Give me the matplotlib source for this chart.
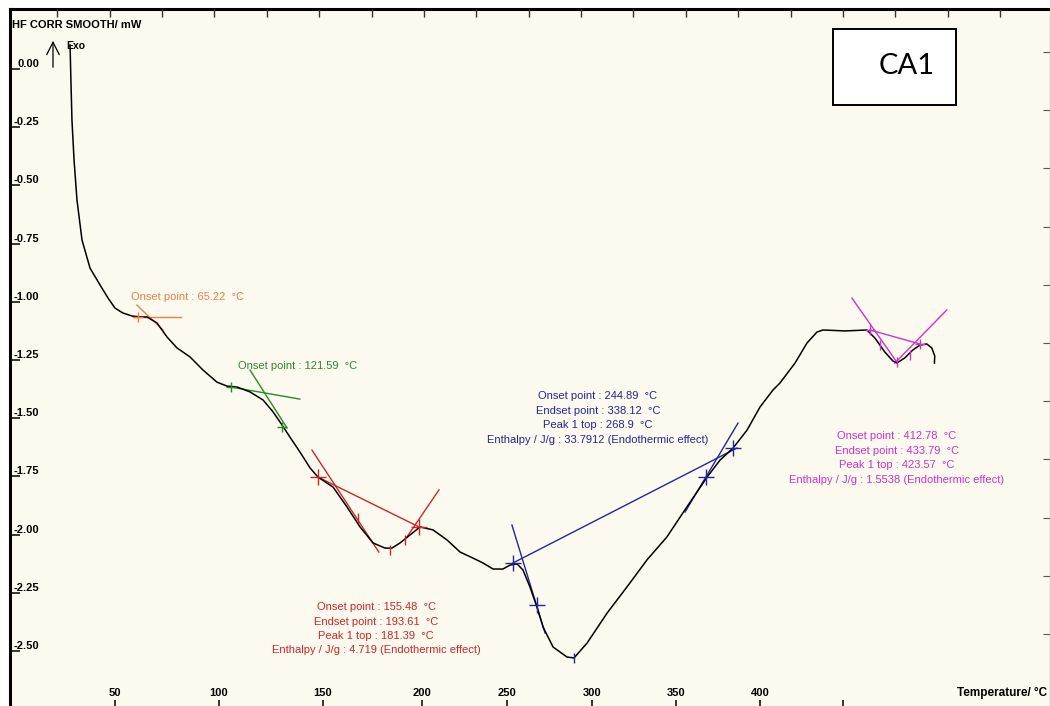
import numpy as np
import matplotlib
matplotlib.use("Agg")
import matplotlib.pyplot as plt
from matplotlib.patches import Rectangle

plt.rcParams['font.family'] = ['Liberation Sans', 'DejaVu Sans']

# DSC trace: sample temperature (°C) and corrected heat flow (mW)
temperature = [28.6, 29.0, 29.5, 30.5, 31.9, 34.3, 38.1, 42.9, 46.7, 50.0,
               53.8, 58.2, 62.0, 65.4, 70.2, 75.0, 79.8, 86.1, 92.3, 99.0,
               103.8, 108.7, 114.9, 121.2, 126.0, 130.3, 134.1, 138.9, 143.8, 147.6,
               155.1, 162.1, 168.7, 175.3, 181.3, 184.8, 188.9, 193.9, 199.0, 206.5,
               214.7, 222.4, 230.0, 235.9, 241.8, 247.6, 251.8, 255.9, 259.4, 263.5,
               267.6, 271.2, 277.1, 285.3, 289.4, 297.1, 309.0, 320.8, 332.7, 344.6,
               356.5, 368.5, 376.2, 384.0, 392.3, 400.0, 407.8, 412.0, 421.1, 428.3,
               434.3, 437.9, 451.2, 464.5, 469.3, 475.3, 480.1, 482.5, 487.3, 492.2,
               496.4, 500.6, 503.6, 505.4, 505.2]
heat_flow = [0.103, -0.047, -0.219, -0.391, -0.563, -0.735, -0.855, -0.928, -0.984, -1.027,
             -1.048, -1.061, -1.065, -1.065, -1.091, -1.151, -1.198, -1.237, -1.293, -1.345,
             -1.362, -1.366, -1.387, -1.422, -1.473, -1.529, -1.581, -1.645, -1.714, -1.753,
             -1.796, -1.881, -1.967, -2.036, -2.058, -2.058, -2.036, -2.002, -1.967, -1.980,
             -2.023, -2.075, -2.101, -2.122, -2.148, -2.148, -2.131, -2.126, -2.152, -2.225,
             -2.311, -2.397, -2.483, -2.526, -2.530, -2.466, -2.337, -2.225, -2.109, -2.010,
             -1.881, -1.753, -1.680, -1.628, -1.551, -1.452, -1.379, -1.349, -1.263, -1.177,
             -1.130, -1.121, -1.125, -1.121, -1.156, -1.216, -1.254, -1.263, -1.241, -1.207,
             -1.186, -1.181, -1.198, -1.233, -1.263]

# axis calibration of the temperature scale (°C -> screen units)
scale_temps = [0, 50, 100, 150, 200, 250, 300, 350, 400, 450, 575]
scale_units = [0, 105, 209, 313, 412, 497, 582, 666, 750, 833, 1040]

x_ticks = [50, 100, 150, 200, 250, 300, 350, 400, 450]
x_labels = ['50', '100', '150', '200', '250', '300', '350', '400', '']
y_ticks = [0.0, -0.25, -0.5, -0.75, -1.0, -1.25, -1.5, -1.75, -2.0, -2.25, -2.5]

# thermal events: tangents, baselines, crosses and result text
orange_lines = [([58.6, 81.9], [-1.065, -1.065]), ([60.5, 73.1], [-1.014, -1.121])]
orange_cross = ([61.0], [-1.065])
orange_text = "Onset point : 65.22  °C"

green_lines = [([105.7, 138.9], [-1.366, -1.418]), ([114.9, 132.7], [-1.293, -1.542])]
green_cross = ([105.7, 130.3], [-1.366, -1.538])
green_text = "Onset point : 121.59  °C"

red_lines = [([147.6, 198.5], [-1.753, -1.967]), ([144.7, 178.2], [-1.637, -2.075]),
             ([192.4, 210.0], [-2.010, -1.808])]
red_cross = ([147.6, 198.5], [-1.753, -1.967])
red_ticks = ([167.7, 183.8, 191.4], [-1.929, -2.066, -2.023])
red_text = ["Onset point : 155.48  °C", "Endset point : 193.61  °C",
            "Peak 1 top : 181.39  °C", "Enthalpy / J/g : 4.719 (Endothermic effect)"]

blue_lines = [([253.5, 386.3], [-2.122, -1.628]), ([252.9, 272.4], [-1.959, -2.423]),
              ([355.4, 386.9], [-1.903, -1.521])]
blue_cross = ([253.5, 267.6, 367.9, 384.0], [-2.122, -2.302, -1.753, -1.628])
blue_ticks = ([289.4], [-2.530])
blue_text = ["Onset point : 244.89  °C", "Endset point : 338.12  °C",
             "Peak 1 top : 268.9  °C", "Enthalpy / J/g : 33.7912 (Endothermic effect)"]

magenta_lines = [([466.3, 496.4], [-1.121, -1.181]), ([455.4, 482.5], [-0.984, -1.259]),
                 ([481.3, 512.7], [-1.263, -1.035])]
magenta_cross = ([466.3, 496.4], [-1.121, -1.181])
magenta_ticks = ([472.3, 482.5, 490.4], [-1.186, -1.259, -1.229])
magenta_text = ["Onset point : 412.78  °C", "Endset point : 433.79  °C",
                "Peak 1 top : 423.57  °C", "Enthalpy / J/g : 1.5538 (Endothermic effect)"]


def to_units(t):
    return np.interp(t, scale_temps, scale_units)


def to_temps(u):
    return np.interp(u, scale_units, scale_temps)


fig = plt.figure(figsize=(10.5, 7.06), dpi=100, facecolor='white')
ax = fig.add_axes([10 / 1050, -2 / 706, 1040 / 1050, 699 / 706])
ax.set_facecolor('#fcf9ee')
ax.set_xscale('function', functions=(to_units, to_temps))
ax.set_xlim(0, 575)
ax.set_ylim(-2.745, 0.258)

ax.plot(temperature, heat_flow, color='black', lw=1.1, zorder=3)


def draw_event(lines, cross, color, big, ticks=None):
    for xs, ys in lines:
        ax.plot(xs, ys, color=color, lw=1.0, zorder=2)
    ax.plot(cross[0], cross[1], ls='none', marker='+', ms=12 if big else 7,
            mew=1.0, color=color, zorder=4)
    if ticks:
        ax.plot(ticks[0], ticks[1], ls='none', marker='|', ms=7, mew=1.0,
                color=color, zorder=4)


draw_event(orange_lines, orange_cross, '#e8804a', False)
draw_event(green_lines, green_cross, '#2a8a2a', False)
draw_event(red_lines, red_cross, '#c8282d', True, red_ticks)
draw_event(blue_lines, blue_cross, '#26269a', True, blue_ticks)
draw_event(magenta_lines, magenta_cross, '#cc33cc', False, magenta_ticks)

note = dict(fontsize=8, linespacing=1.55)
ax.text(57.6, -0.979, orange_text, color='#e8804a', va='center', **note)
ax.text(109.1, -1.276, green_text, color='#2a8a2a', va='center', **note)
ax.text(176.8, -2.405, "\n".join(red_text), color='#c8282d',
        ha='center', va='center', **note)
ax.text(303.6, -1.499, "\n".join(blue_text), color='#26269a',
        ha='center', va='center', **note)
ax.text(482.5, -1.671, "\n".join(magenta_text), color='#cc33cc',
        ha='center', va='center', **note)

# frame and ticks
for side in ['left', 'top']:
    ax.spines[side].set_linewidth(2.2)
ax.set_yticks(y_ticks)
ax.set_xticks(x_ticks)
ax.tick_params(axis='y', direction='in', length=7, width=1.1, labelleft=False)
ax.tick_params(axis='x', direction='in', length=6, width=1.1, labelbottom=False)
ax.minorticks_off()

for v in y_ticks:
    ax.text(0.0279, v, f"{v:.2f}", transform=ax.get_yaxis_transform(),
            ha='right', va='bottom', fontsize=8, fontweight='bold')
for t, lab in zip(x_ticks, x_labels):
    ax.text(t, 0.0215, lab, transform=ax.get_xaxis_transform(),
            ha='center', va='center', fontsize=8, fontweight='bold')
ax.text(519, 0.0215, "Temperature/ °C", transform=ax.get_xaxis_transform(),
        ha='left', va='center', fontsize=8.5, fontweight='bold')

ax_top = ax.twiny()
ax_top.set_xlim(-0.9, 18.95)
ax_top.set_xticks(range(0, 19))
ax_top.tick_params(axis='x', direction='in', length=6, width=1.0,
                   labeltop=False, colors='#333333')
for s in ax_top.spines.values():
    s.set_visible(False)

ax_right = ax.twinx()
ax_right.set_ylim(-2.745 - 0.073, 0.258 - 0.073)
ax_right.set_yticks(y_ticks)
ax_right.tick_params(axis='y', direction='in', length=5, width=0.8,
                     labelright=False, colors='#555555')
for s in ax_right.spines.values():
    s.set_visible(False)

fig.text(12 / 1050, 1 - 25 / 706, "HF CORR SMOOTH/ mW", fontsize=8,
         fontweight='bold', va='center')
fig.text(66 / 1050, 1 - 46 / 706, "Exo", fontsize=7.5, fontweight='bold', va='center')
ax.annotate('', xy=(53, 706 - 38), xytext=(53, 706 - 70), xycoords='figure pixels',
            textcoords='figure pixels',
            arrowprops=dict(arrowstyle='->,head_length=0.9,head_width=0.45', lw=0.9,
                            color='black'))

fig.add_artist(Rectangle((833 / 1050, 1 - 105 / 706), 123 / 1050, 76 / 706,
                         transform=fig.transFigure, facecolor='white',
                         edgecolor='black', lw=1.4))
fig.text(907 / 1050, 1 - 66 / 706, "CA1", fontsize=21, family='Lato',
         ha='center', va='center')

fig.savefig('out.png', dpi=100, facecolor='white')
